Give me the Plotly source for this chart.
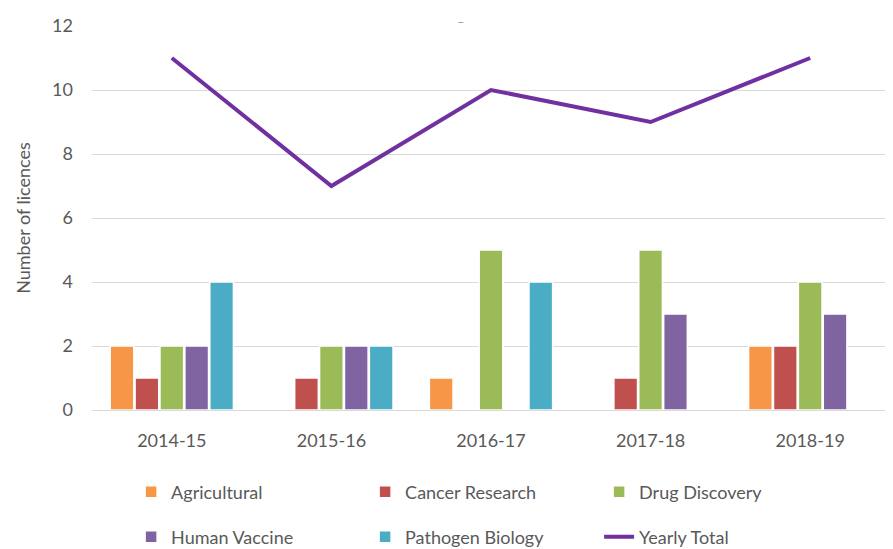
import plotly.graph_objects as go

years = ["2014-15", "2015-16", "2016-17", "2017-18", "2018-19"]
agricultural = [2, 0, 1, 0, 2]
cancer = [1, 1, 0, 1, 2]
drug = [2, 2, 5, 5, 4]
vaccine = [2, 2, 0, 3, 3]
pathogen = [4, 2, 4, 0, 0]
yearly_total = [11, 7, 10, 9, 11]

series = [
    ("Agricultural", agricultural, "#F79646", "legend"),
    ("Cancer Research", cancer, "#C0504D", "legend"),
    ("Drug Discovery", drug, "#9BBB59", "legend"),
    ("Human Vaccine", vaccine, "#8064A2", "legend2"),
    ("Pathogen Biology", pathogen, "#4BACC6", "legend2"),
]

font = "Lato"
grey = "#595959"
fs = 18
OFF = 8  # page offset of the figure

fig = go.Figure()
for name, vals, col, lg in series:
    fig.add_trace(go.Bar(x=years, y=vals, name=name, marker_color=col,
                         marker_line=dict(color="white", width=1.5), legend=lg))
fig.add_trace(go.Scatter(x=years, y=yearly_total, name="Yearly Total", mode="lines",
                         line=dict(color="#7030A0", width=4), legend="legend2"))

H = 549
leg_common = dict(orientation="h", x=0.049, xanchor="left", yanchor="middle", yref="container",
                  entrywidth=189, font=dict(size=fs, color=grey), traceorder="normal")

fig.update_layout(
    width=893, height=H,
    margin=dict(l=92 - OFF, r=3 + OFF, t=26 - OFF, b=139 + OFF, autoexpand=False),
    plot_bgcolor="white", paper_bgcolor="white",
    barmode="group", bargap=0.22, bargroupgap=0.05,
    font=dict(family=font, size=fs, color=grey),
    showlegend=True,
    legend=dict(y=1 - (492 - OFF) / H, **leg_common),
    legend2=dict(y=1 - (537 - OFF) / H, **leg_common),
    xaxis=dict(showline=True, linecolor="#D9D9D9", linewidth=1, ticks="", automargin=False,
               ticklabelstandoff=14, tickfont=dict(size=fs, color=grey)),
    yaxis=dict(range=[0, 12], dtick=2, showgrid=True, gridcolor="#D9D9D9", gridwidth=1,
               zeroline=False, automargin=False, ticklabelstandoff=18,
               tickfont=dict(size=fs, color=grey),
               title=dict(text="Number of licences", font=dict(size=fs, color=grey), standoff=16)),
    annotations=[dict(text="_", x=0.462, y=1.0, xref="paper", yref="paper", yanchor="bottom",
                      showarrow=False, font=dict(size=12, color="#7F7F7F"))],
)

fig.write_html("out.html")
